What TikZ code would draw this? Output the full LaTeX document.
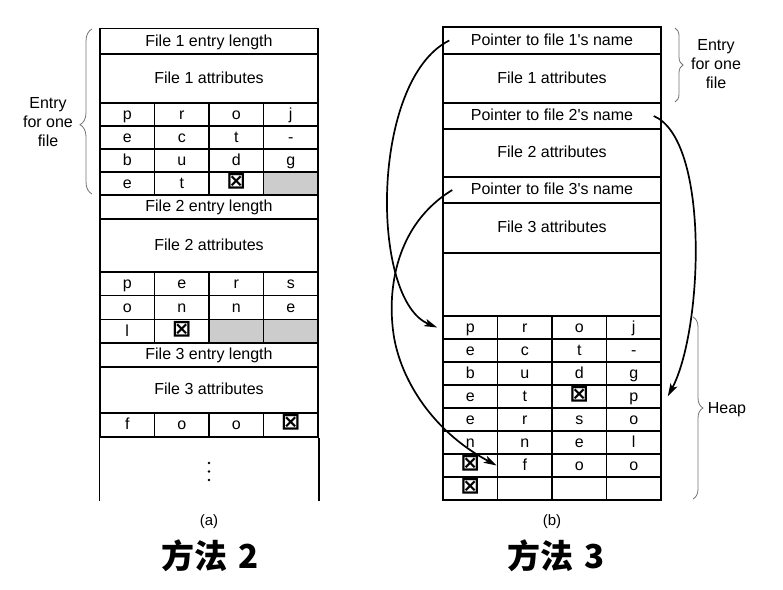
\documentclass[tikz,border=0pt]{standalone}
\usepackage{fontspec}
\setmainfont{Liberation Sans}
\newfontfamily\cjk{Noto Sans CJK SC}
\newfontfamily\symf{DejaVu Sans}
\usetikzlibrary{arrows.meta,decorations.pathreplacing}
\newcommand\xbox{{\symf\bfseries\fontsize{23}{23}\selectfont ⊠}}
\begin{document}
\begin{tikzpicture}[x=1pt,y=-1pt,
  base/.style={draw=black, line width=1.5pt, inner sep=0pt, text height=12.8pt, text depth=3pt, font=\fontsize{16}{19}\selectfont},
  cell/.style={base, minimum width=54.5pt, minimum height=23pt},
  wide/.style={base, minimum width=218pt},
  shade/.style={fill=black!20},
  arr/.style={line width=1.7pt, -{Stealth[length=13pt,width=7.5pt,inset=3pt]}},
  brc/.style={draw=black!55, line width=0.8pt, decorate},
  lbl/.style={font=\fontsize{16}{19}\selectfont, align=center},
  sublbl/.style={font=\fontsize{15}{17}\selectfont},
  big/.style={font=\cjk\bfseries\fontsize{33}{33}\selectfont}
]
\useasboundingbox (0,0) rectangle (783,589);

% ---------- (a) left table ----------
\node[wide, minimum height=26pt] (L1e) at (209,41.5) {File 1 entry length};
\node[wide, minimum height=49pt] (L1a) at (209,78.5) {File 1 attributes};
\foreach \t [count=\i] in {p,r,o,j}
  \node[cell] (La-1-\i) at ({100+54.5*(\i-0.5)},114.5) {\t};
\foreach \t [count=\i] in {e,c,t,-}
  \node[cell] (La-2-\i) at ({100+54.5*(\i-0.5)},137.5) {\t};
\foreach \t [count=\i] in {b,u,d,g}
  \node[cell] (La-3-\i) at ({100+54.5*(\i-0.5)},160.5) {\t};
\foreach \t [count=\i] in {e,t,\xbox}
  \node[cell] (La-4-\i) at ({100+54.5*(\i-0.5)},183.5) {\t};
\node[cell, shade] (La-4-4) at ({100+54.5*3.5},183.5) {};

\node[wide, minimum height=24pt] (L2e) at (209,207) {File 2 entry length};
\node[wide, minimum height=53pt] (L2a) at (209,245.5) {File 2 attributes};
\foreach \t [count=\i] in {p,e,r,s}
  \node[cell, minimum height=23.67pt] (Lb-1-\i) at ({100+54.5*(\i-0.5)},283.8) {\t};
\foreach \t [count=\i] in {o,n,n,e}
  \node[cell, minimum height=23.67pt] (Lb-2-\i) at ({100+54.5*(\i-0.5)},307.5) {\t};
\foreach \t [count=\i] in {l,\xbox}
  \node[cell, minimum height=23.67pt] (Lb-3-\i) at ({100+54.5*(\i-0.5)},331.2) {\t};
\foreach \i in {3,4}
  \node[cell, shade, minimum height=23.67pt] (Lb-3-\i) at ({100+54.5*(\i-0.5)},331.2) {};

\node[wide, minimum height=24pt] (L3e) at (209,355) {File 3 entry length};
\node[wide, minimum height=46pt] (L3a) at (209,390) {File 3 attributes};
\foreach \t [count=\i] in {f,o,o,\xbox}
  \node[cell, minimum height=24pt] (Lc-1-\i) at ({100+54.5*(\i-0.5)},425) {\t};
\draw[line width=1.5pt] (Lc-1-1.south west) -- ++(0,63);
\draw[line width=1.5pt] (Lc-1-4.south east) -- ++(0,63);
\foreach \yy in {463,471.5,480} \fill (209,\yy) circle (1.3pt);

\draw[brc, decoration={brace, amplitude=12pt, aspect=0.42}] (92,194) -- (92,29);
\node[lbl] (La-t) at (48,122) {Entry\\for one\\file};
\node[sublbl] (capA) at (209,522) {(a)};
\node[big] (titA) at (210,556) {方法\hspace{11pt}2};

% ---------- (b) right table ----------
\node[wide, minimum height=27pt] (P1) at (552,40.5) {Pointer to file 1\textquotesingle s name};
\node[wide, minimum height=49pt] (A1) at (552,78.5) {File 1 attributes};
\node[wide, minimum height=26pt] (P2) at (552,116) {Pointer to file 2\textquotesingle s name};
\node[wide, minimum height=48pt] (A2) at (552,153) {File 2 attributes};
\node[wide, minimum height=26pt] (P3) at (552,190) {Pointer to file 3\textquotesingle s name};
\node[wide, minimum height=50pt] (A3) at (552,228) {File 3 attributes};
\node[wide, minimum height=63pt] (E) at (552,284.5) {};
\foreach \row [count=\k] in {{p,r,o,j},{e,c,t,-},{b,u,d,g},{e,t,\xbox,p},{e,r,s,o},{n,n,e,l},{\xbox,f,o,o},{\xbox,{},{},{}}}
  \foreach \t [count=\i] in \row
    \node[cell] (H-\k-\i) at ({443+54.5*(\i-0.5)},{316+23*(\k-0.5)}) {\t};

\draw[brc, decoration={brace, amplitude=8pt}] (675,28) -- (675,102);
\node[lbl] (Rb-t) at (716,64) {Entry\\for one\\file};
\draw[brc, decoration={brace, amplitude=10pt}] (693,317) -- (693,499);
\node[lbl] (heap) at (727,410) {Heap};

\coordinate (m3) at (393,330);
\draw[arr] ([xshift=7pt]P1.west) .. controls (370,80) and (370,300) .. ([xshift=-5pt]H-1-1.west);
\draw[arr] ([xshift=-8pt]P2.east) .. controls (710,140) and (703,330) .. ([xshift=6pt]H-4-4.east);
\draw[arr] ([xshift=10pt]P3.west) .. controls (395,225) and (388,290) .. (m3)
  .. controls (398,375) and (430,430) .. (H-7-2.west);

\node[sublbl] (capB) at (552,522) {(b)};
\node[big] (titB) at (556,556) {方法\hspace{11pt}3};
\end{tikzpicture}
\end{document}
